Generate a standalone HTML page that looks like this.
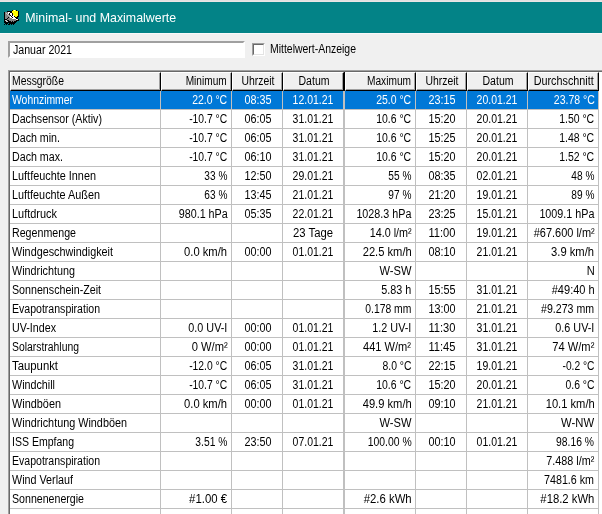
<!DOCTYPE html>
<html><head><meta charset="utf-8"><title>Minimal- und Maximalwerte</title>
<style>
html,body{margin:0;padding:0}
body{width:602px;height:514px;overflow:hidden;position:relative;background:#f0f0f0;font-family:"Liberation Sans",sans-serif;font-size:12px;color:#000}
div,span{position:absolute;box-sizing:border-box}
.t{white-space:nowrap;line-height:14px;height:14px;display:block}
.l{transform-origin:0 50%}
.r{transform-origin:100% 50%}
.c{transform-origin:50% 50%}
.sel .t{color:#fff}
</style></head><body>

<div style="left:0;top:0;width:602px;height:1px;background:#e1e1e1"></div><div style="left:0;top:1px;width:602px;height:1px;background:#e9e6e6"></div><div style="left:0;top:33px;width:602px;height:1px;background:#f9f9f9"></div>
<div style="left:0;top:2px;width:602px;height:31px;background:#038387"></div>
<svg style="position:absolute;left:4px;top:10px" width="16" height="16" viewBox="0 0 16 16" shape-rendering="crispEdges">
<rect x="8" y="0" width="1" height="1" fill="#000"/>
<rect x="9" y="0" width="1" height="1" fill="#ff0"/>
<rect x="10" y="0" width="1" height="1" fill="#fff"/>
<rect x="11" y="0" width="1" height="1" fill="#ff0"/>
<rect x="12" y="0" width="1" height="1" fill="#000"/>
<rect x="3" y="1" width="5" height="1" fill="#000"/>
<rect x="8" y="1" width="6" height="1" fill="#ff0"/>
<rect x="14" y="1" width="1" height="1" fill="#000"/>
<rect x="0" y="2" width="1" height="1" fill="#000"/>
<rect x="1" y="2" width="3" height="1" fill="#868686"/>
<rect x="4" y="2" width="2" height="1" fill="#fff"/>
<rect x="6" y="2" width="2" height="1" fill="#000"/>
<rect x="8" y="2" width="6" height="1" fill="#ff0"/>
<rect x="14" y="2" width="1" height="1" fill="#000"/>
<rect x="0" y="3" width="1" height="1" fill="#000"/>
<rect x="1" y="3" width="1" height="1" fill="#868686"/>
<rect x="2" y="3" width="1" height="1" fill="#c0c0c0"/>
<rect x="3" y="3" width="1" height="1" fill="#868686"/>
<rect x="4" y="3" width="1" height="1" fill="#fff"/>
<rect x="5" y="3" width="1" height="1" fill="#000"/>
<rect x="6" y="3" width="2" height="1" fill="#fff"/>
<rect x="8" y="3" width="1" height="1" fill="#000"/>
<rect x="9" y="3" width="5" height="1" fill="#ff0"/>
<rect x="14" y="3" width="1" height="1" fill="#000"/>
<rect x="0" y="4" width="1" height="1" fill="#000"/>
<rect x="1" y="4" width="2" height="1" fill="#868686"/>
<rect x="3" y="4" width="1" height="1" fill="#c0c0c0"/>
<rect x="4" y="4" width="1" height="1" fill="#868686"/>
<rect x="5" y="4" width="1" height="1" fill="#000"/>
<rect x="6" y="4" width="2" height="1" fill="#fff"/>
<rect x="8" y="4" width="1" height="1" fill="#000"/>
<rect x="9" y="4" width="5" height="1" fill="#ff0"/>
<rect x="14" y="4" width="1" height="1" fill="#000"/>
<rect x="0" y="5" width="1" height="1" fill="#000"/>
<rect x="1" y="5" width="3" height="1" fill="#868686"/>
<rect x="4" y="5" width="1" height="1" fill="#c0c0c0"/>
<rect x="5" y="5" width="1" height="1" fill="#868686"/>
<rect x="6" y="5" width="1" height="1" fill="#000"/>
<rect x="7" y="5" width="1" height="1" fill="#fff"/>
<rect x="8" y="5" width="1" height="1" fill="#000"/>
<rect x="9" y="5" width="1" height="1" fill="#fff"/>
<rect x="10" y="5" width="4" height="1" fill="#ff0"/>
<rect x="14" y="5" width="1" height="1" fill="#000"/>
<rect x="0" y="6" width="1" height="1" fill="#000"/>
<rect x="1" y="6" width="4" height="1" fill="#868686"/>
<rect x="5" y="6" width="1" height="1" fill="#c0c0c0"/>
<rect x="6" y="6" width="1" height="1" fill="#fff"/>
<rect x="7" y="6" width="1" height="1" fill="#000"/>
<rect x="8" y="6" width="2" height="1" fill="#fff"/>
<rect x="10" y="6" width="1" height="1" fill="#000"/>
<rect x="11" y="6" width="2" height="1" fill="#ff0"/>
<rect x="13" y="6" width="2" height="1" fill="#000"/>
<rect x="0" y="7" width="1" height="1" fill="#000"/>
<rect x="1" y="7" width="3" height="1" fill="#868686"/>
<rect x="4" y="7" width="1" height="1" fill="#000"/>
<rect x="5" y="7" width="1" height="1" fill="#868686"/>
<rect x="6" y="7" width="2" height="1" fill="#fff"/>
<rect x="8" y="7" width="1" height="1" fill="#000"/>
<rect x="9" y="7" width="2" height="1" fill="#fff"/>
<rect x="11" y="7" width="3" height="1" fill="#000"/>
<rect x="0" y="8" width="1" height="1" fill="#000"/>
<rect x="1" y="8" width="2" height="1" fill="#868686"/>
<rect x="3" y="8" width="1" height="1" fill="#000"/>
<rect x="4" y="8" width="4" height="1" fill="#868686"/>
<rect x="8" y="8" width="4" height="1" fill="#fff"/>
<rect x="12" y="8" width="2" height="1" fill="#000"/>
<rect x="0" y="9" width="3" height="1" fill="#000"/>
<rect x="3" y="9" width="9" height="1" fill="#868686"/>
<rect x="12" y="9" width="2" height="1" fill="#fff"/>
<rect x="14" y="9" width="1" height="1" fill="#000"/>
<rect x="0" y="10" width="1" height="1" fill="#000"/>
<rect x="1" y="10" width="2" height="1" fill="#c0c0c0"/>
<rect x="3" y="10" width="2" height="1" fill="#000"/>
<rect x="5" y="10" width="7" height="1" fill="#868686"/>
<rect x="12" y="10" width="3" height="1" fill="#000"/>
<rect x="0" y="11" width="2" height="1" fill="#000"/>
<rect x="2" y="11" width="2" height="1" fill="#c0c0c0"/>
<rect x="4" y="11" width="3" height="1" fill="#000"/>
<rect x="7" y="11" width="1" height="1" fill="#868686"/>
<rect x="8" y="11" width="1" height="1" fill="#000"/>
<rect x="9" y="11" width="1" height="1" fill="#868686"/>
<rect x="10" y="11" width="3" height="1" fill="#000"/>
<rect x="0" y="12" width="12" height="1" fill="#000"/>
<rect x="1" y="13" width="3" height="1" fill="#000"/>
<rect x="5" y="13" width="6" height="1" fill="#000"/>
<rect x="0" y="14" width="1" height="1" fill="#000"/>
<rect x="2" y="14" width="1" height="1" fill="#000"/>
<rect x="4" y="14" width="2" height="1" fill="#000"/>
<rect x="7" y="14" width="1" height="1" fill="#000"/>
<rect x="9" y="14" width="1" height="1" fill="#000"/>
</svg>
<span class="tt" style="left:25.3px;top:11px;color:#fff;font-size:12.4px;line-height:15px;height:15px;white-space:nowrap">Minimal- und Maximalwerte</span>
<div style="left:8px;top:41px;width:237px;height:17px;background:#fff;border-top:2px solid #a0a0a0;border-left:2px solid #a0a0a0;border-right:2px solid #fff;border-bottom:2px solid #fff"></div>
<span class="t l" style="left:12.6px;top:43px;transform:scaleX(0.8841)">Januar 2021</span>
<div style="left:252px;top:43px;width:13px;height:13px;background:#fff;border-top:1px solid #a0a0a0;border-left:1px solid #a0a0a0;border-right:1px solid #fff;border-bottom:1px solid #fff"><div style="left:0;top:0;width:11px;height:11px;border-top:1px solid #696969;border-left:1px solid #696969;border-right:1px solid #e3e3e3;border-bottom:1px solid #e3e3e3"></div></div>
<span class="t l" style="left:270px;top:42px;transform:scaleX(0.8713)">Mittelwert-Anzeige</span>
<div style="left:8px;top:70px;width:600px;height:450px;background:#fff;border-top:1px solid #a0a0a0;border-left:1px solid #a0a0a0"><div style="left:0;top:0;width:599px;height:449px;border-top:1px solid #696969;border-left:1px solid #696969"></div></div>
<div style="left:10px;top:72px;width:151px;height:19px;background:#f0f0f0;border-top:1px solid #fff;border-left:1px solid #fff;border-right:1px solid #000;border-bottom:1px solid #000"><div style="left:0;top:0;width:149px;height:17px;border-right:1px solid #a0a0a0;border-bottom:1px solid #a0a0a0"></div></div>
<span class="t l" style="left:12px;top:74px;transform:scaleX(0.8662)">Messgröße</span>
<div style="left:161px;top:72px;width:71px;height:19px;background:#f0f0f0;border-top:1px solid #fff;border-left:1px solid #fff;border-right:1px solid #000;border-bottom:1px solid #000"><div style="left:0;top:0;width:69px;height:17px;border-right:1px solid #a0a0a0;border-bottom:1px solid #a0a0a0"></div></div>
<span class="t r" style="right:375.2px;top:74px;transform:scaleX(0.8424)">Minimum</span>
<div style="left:232px;top:72px;width:51px;height:19px;background:#f0f0f0;border-top:1px solid #fff;border-left:1px solid #fff;border-right:1px solid #000;border-bottom:1px solid #000"><div style="left:0;top:0;width:49px;height:17px;border-right:1px solid #a0a0a0;border-bottom:1px solid #a0a0a0"></div></div>
<span class="t c" style="left:212.5px;width:90px;text-align:center;top:74px;transform:scaleX(0.8681)">Uhrzeit</span>
<div style="left:283px;top:72px;width:61px;height:19px;background:#f0f0f0;border-top:1px solid #fff;border-left:1px solid #fff;border-right:1px solid #000;border-bottom:1px solid #000"><div style="left:0;top:0;width:59px;height:17px;border-right:1px solid #a0a0a0;border-bottom:1px solid #a0a0a0"></div></div>
<span class="t c" style="left:263.5px;width:100px;text-align:center;top:74px;transform:scaleX(0.8771)">Datum</span>
<div style="left:345px;top:72px;width:71px;height:19px;background:#f0f0f0;border-top:1px solid #fff;border-left:1px solid #fff;border-right:1px solid #000;border-bottom:1px solid #000"><div style="left:0;top:0;width:69px;height:17px;border-right:1px solid #a0a0a0;border-bottom:1px solid #a0a0a0"></div></div>
<span class="t r" style="right:191.2px;top:74px;transform:scaleX(0.8459)">Maximum</span>
<div style="left:416px;top:72px;width:51px;height:19px;background:#f0f0f0;border-top:1px solid #fff;border-left:1px solid #fff;border-right:1px solid #000;border-bottom:1px solid #000"><div style="left:0;top:0;width:49px;height:17px;border-right:1px solid #a0a0a0;border-bottom:1px solid #a0a0a0"></div></div>
<span class="t c" style="left:396.5px;width:90px;text-align:center;top:74px;transform:scaleX(0.8681)">Uhrzeit</span>
<div style="left:467px;top:72px;width:61px;height:19px;background:#f0f0f0;border-top:1px solid #fff;border-left:1px solid #fff;border-right:1px solid #000;border-bottom:1px solid #000"><div style="left:0;top:0;width:59px;height:17px;border-right:1px solid #a0a0a0;border-bottom:1px solid #a0a0a0"></div></div>
<span class="t c" style="left:447.5px;width:100px;text-align:center;top:74px;transform:scaleX(0.8771)">Datum</span>
<div style="left:528px;top:72px;width:71px;height:19px;background:#f0f0f0;border-top:1px solid #fff;border-left:1px solid #fff;border-right:1px solid #000;border-bottom:1px solid #000"><div style="left:0;top:0;width:69px;height:17px;border-right:1px solid #a0a0a0;border-bottom:1px solid #a0a0a0"></div></div>
<span class="t r" style="right:8.200000000000045px;top:74px;transform:scaleX(0.8995)">Durchschnitt</span>
<div style="left:344px;top:72px;width:1px;height:19px;background:#000"></div>
<div style="left:10px;top:91px;width:589px;height:18px;background:#0078d7"></div>
<div style="left:10px;top:109px;width:589px;height:1px;background:#c0c0c0"></div>
<div style="left:10px;top:128px;width:589px;height:1px;background:#c0c0c0"></div>
<div style="left:10px;top:147px;width:589px;height:1px;background:#c0c0c0"></div>
<div style="left:10px;top:166px;width:589px;height:1px;background:#c0c0c0"></div>
<div style="left:10px;top:185px;width:589px;height:1px;background:#c0c0c0"></div>
<div style="left:10px;top:204px;width:589px;height:1px;background:#c0c0c0"></div>
<div style="left:10px;top:223px;width:589px;height:1px;background:#c0c0c0"></div>
<div style="left:10px;top:242px;width:589px;height:1px;background:#c0c0c0"></div>
<div style="left:10px;top:261px;width:589px;height:1px;background:#c0c0c0"></div>
<div style="left:10px;top:280px;width:589px;height:1px;background:#c0c0c0"></div>
<div style="left:10px;top:299px;width:589px;height:1px;background:#c0c0c0"></div>
<div style="left:10px;top:318px;width:589px;height:1px;background:#c0c0c0"></div>
<div style="left:10px;top:337px;width:589px;height:1px;background:#c0c0c0"></div>
<div style="left:10px;top:356px;width:589px;height:1px;background:#c0c0c0"></div>
<div style="left:10px;top:375px;width:589px;height:1px;background:#c0c0c0"></div>
<div style="left:10px;top:394px;width:589px;height:1px;background:#c0c0c0"></div>
<div style="left:10px;top:413px;width:589px;height:1px;background:#c0c0c0"></div>
<div style="left:10px;top:432px;width:589px;height:1px;background:#c0c0c0"></div>
<div style="left:10px;top:451px;width:589px;height:1px;background:#c0c0c0"></div>
<div style="left:10px;top:470px;width:589px;height:1px;background:#c0c0c0"></div>
<div style="left:10px;top:489px;width:589px;height:1px;background:#c0c0c0"></div>
<div style="left:10px;top:508px;width:589px;height:1px;background:#c0c0c0"></div>
<div style="left:160px;top:91px;width:1px;height:423px;background:#c0c0c0"></div>
<div style="left:231px;top:91px;width:1px;height:423px;background:#c0c0c0"></div>
<div style="left:282px;top:91px;width:1px;height:423px;background:#c0c0c0"></div>
<div style="left:343px;top:91px;width:1px;height:423px;background:#c0c0c0"></div>
<div style="left:344px;top:91px;width:1px;height:423px;background:#c0c0c0"></div>
<div style="left:415px;top:91px;width:1px;height:423px;background:#c0c0c0"></div>
<div style="left:466px;top:91px;width:1px;height:423px;background:#c0c0c0"></div>
<div style="left:527px;top:91px;width:1px;height:423px;background:#c0c0c0"></div>
<div style="left:598px;top:91px;width:1px;height:423px;background:#c0c0c0"></div>
<div class="row sel" style="left:0;top:91px;width:602px;height:18px">
<span class="t l" style="left:12px;top:2px;transform:scaleX(0.8656)">Wohnzimmer</span>
<span class="t r" style="right:374.5px;top:2px;transform:scaleX(0.8716)">22.0 °C</span>
<span class="t c" style="left:212.5px;width:90px;text-align:center;top:2px;transform:scaleX(0.8991)">08:35</span>
<span class="t c" style="left:262.7px;width:100px;text-align:center;top:2px;transform:scaleX(0.8733)">12.01.21</span>
<span class="t r" style="right:190.5px;top:2px;transform:scaleX(0.8716)">25.0 °C</span>
<span class="t c" style="left:396.5px;width:90px;text-align:center;top:2px;transform:scaleX(0.8991)">23:15</span>
<span class="t c" style="left:446.7px;width:100px;text-align:center;top:2px;transform:scaleX(0.8733)">20.01.21</span>
<span class="t r" style="right:7.5px;top:2px;transform:scaleX(0.8755)">23.78 °C</span>
</div>
<div class="row" style="left:0;top:110px;width:602px;height:18px">
<span class="t l" style="left:12px;top:2px;transform:scaleX(0.8878)">Dachsensor (Aktiv)</span>
<span class="t r" style="right:374.5px;top:2px;transform:scaleX(0.8606)">-10.7 °C</span>
<span class="t c" style="left:212.5px;width:90px;text-align:center;top:2px;transform:scaleX(0.8991)">06:05</span>
<span class="t c" style="left:262.7px;width:100px;text-align:center;top:2px;transform:scaleX(0.8733)">31.01.21</span>
<span class="t r" style="right:190.5px;top:2px;transform:scaleX(0.8716)">10.6 °C</span>
<span class="t c" style="left:396.5px;width:90px;text-align:center;top:2px;transform:scaleX(0.8991)">15:20</span>
<span class="t c" style="left:446.7px;width:100px;text-align:center;top:2px;transform:scaleX(0.8733)">20.01.21</span>
<span class="t r" style="right:7.5px;top:2px;transform:scaleX(0.8716)">1.50 °C</span>
</div>
<div class="row" style="left:0;top:129px;width:602px;height:18px">
<span class="t l" style="left:12px;top:2px;transform:scaleX(0.8884)">Dach min.</span>
<span class="t r" style="right:374.5px;top:2px;transform:scaleX(0.8606)">-10.7 °C</span>
<span class="t c" style="left:212.5px;width:90px;text-align:center;top:2px;transform:scaleX(0.8991)">06:05</span>
<span class="t c" style="left:262.7px;width:100px;text-align:center;top:2px;transform:scaleX(0.8733)">31.01.21</span>
<span class="t r" style="right:190.5px;top:2px;transform:scaleX(0.8716)">10.6 °C</span>
<span class="t c" style="left:396.5px;width:90px;text-align:center;top:2px;transform:scaleX(0.8991)">15:25</span>
<span class="t c" style="left:446.7px;width:100px;text-align:center;top:2px;transform:scaleX(0.8733)">20.01.21</span>
<span class="t r" style="right:7.5px;top:2px;transform:scaleX(0.8716)">1.48 °C</span>
</div>
<div class="row" style="left:0;top:148px;width:602px;height:18px">
<span class="t l" style="left:12px;top:2px;transform:scaleX(0.8891)">Dach max.</span>
<span class="t r" style="right:374.5px;top:2px;transform:scaleX(0.8606)">-10.7 °C</span>
<span class="t c" style="left:212.5px;width:90px;text-align:center;top:2px;transform:scaleX(0.8991)">06:10</span>
<span class="t c" style="left:262.7px;width:100px;text-align:center;top:2px;transform:scaleX(0.8733)">31.01.21</span>
<span class="t r" style="right:190.5px;top:2px;transform:scaleX(0.8716)">10.6 °C</span>
<span class="t c" style="left:396.5px;width:90px;text-align:center;top:2px;transform:scaleX(0.8991)">15:20</span>
<span class="t c" style="left:446.7px;width:100px;text-align:center;top:2px;transform:scaleX(0.8733)">20.01.21</span>
<span class="t r" style="right:7.5px;top:2px;transform:scaleX(0.8716)">1.52 °C</span>
</div>
<div class="row" style="left:0;top:167px;width:602px;height:18px">
<span class="t l" style="left:12px;top:2px;transform:scaleX(0.9057)">Luftfeuchte Innen</span>
<span class="t r" style="right:374.5px;top:2px;transform:scaleX(0.8407)">33 %</span>
<span class="t c" style="left:212.5px;width:90px;text-align:center;top:2px;transform:scaleX(0.8991)">12:50</span>
<span class="t c" style="left:262.7px;width:100px;text-align:center;top:2px;transform:scaleX(0.8733)">29.01.21</span>
<span class="t r" style="right:190.5px;top:2px;transform:scaleX(0.8407)">55 %</span>
<span class="t c" style="left:396.5px;width:90px;text-align:center;top:2px;transform:scaleX(0.8991)">08:35</span>
<span class="t c" style="left:446.7px;width:100px;text-align:center;top:2px;transform:scaleX(0.8733)">02.01.21</span>
<span class="t r" style="right:7.5px;top:2px;transform:scaleX(0.8407)">48 %</span>
</div>
<div class="row" style="left:0;top:186px;width:602px;height:18px">
<span class="t l" style="left:12px;top:2px;transform:scaleX(0.9034)">Luftfeuchte Außen</span>
<span class="t r" style="right:374.5px;top:2px;transform:scaleX(0.8407)">63 %</span>
<span class="t c" style="left:212.5px;width:90px;text-align:center;top:2px;transform:scaleX(0.8991)">13:45</span>
<span class="t c" style="left:262.7px;width:100px;text-align:center;top:2px;transform:scaleX(0.8733)">21.01.21</span>
<span class="t r" style="right:190.5px;top:2px;transform:scaleX(0.8407)">97 %</span>
<span class="t c" style="left:396.5px;width:90px;text-align:center;top:2px;transform:scaleX(0.8991)">21:20</span>
<span class="t c" style="left:446.7px;width:100px;text-align:center;top:2px;transform:scaleX(0.8733)">19.01.21</span>
<span class="t r" style="right:7.5px;top:2px;transform:scaleX(0.8407)">89 %</span>
</div>
<div class="row" style="left:0;top:205px;width:602px;height:18px">
<span class="t l" style="left:12px;top:2px;transform:scaleX(0.9117)">Luftdruck</span>
<span class="t r" style="right:374.5px;top:2px;transform:scaleX(0.8955)">980.1 hPa</span>
<span class="t c" style="left:212.5px;width:90px;text-align:center;top:2px;transform:scaleX(0.8991)">05:35</span>
<span class="t c" style="left:262.7px;width:100px;text-align:center;top:2px;transform:scaleX(0.8733)">22.01.21</span>
<span class="t r" style="right:190.5px;top:2px;transform:scaleX(0.8959)">1028.3 hPa</span>
<span class="t c" style="left:396.5px;width:90px;text-align:center;top:2px;transform:scaleX(0.8991)">23:25</span>
<span class="t c" style="left:446.7px;width:100px;text-align:center;top:2px;transform:scaleX(0.8733)">15.01.21</span>
<span class="t r" style="right:7.5px;top:2px;transform:scaleX(0.8959)">1009.1 hPa</span>
</div>
<div class="row" style="left:0;top:224px;width:602px;height:18px">
<span class="t l" style="left:12px;top:2px;transform:scaleX(0.8881)">Regenmenge</span>
<span class="t c" style="left:262.7px;width:100px;text-align:center;top:2px;transform:scaleX(0.9412)">23 Tage</span>
<span class="t r" style="right:190.5px;top:2px;transform:scaleX(0.8996)">14.0 l/m²</span>
<span class="t c" style="left:396.5px;width:90px;text-align:center;top:2px;transform:scaleX(0.9265)">11:00</span>
<span class="t c" style="left:446.7px;width:100px;text-align:center;top:2px;transform:scaleX(0.8733)">19.01.21</span>
<span class="t r" style="right:7.5px;top:2px;transform:scaleX(0.9145)">#67.600 l/m²</span>
</div>
<div class="row" style="left:0;top:243px;width:602px;height:18px">
<span class="t l" style="left:12px;top:2px;transform:scaleX(0.9013)">Windgeschwindigkeit</span>
<span class="t r" style="right:374.5px;top:2px;transform:scaleX(0.9341)">0.0 km/h</span>
<span class="t c" style="left:212.5px;width:90px;text-align:center;top:2px;transform:scaleX(0.8991)">00:00</span>
<span class="t c" style="left:262.7px;width:100px;text-align:center;top:2px;transform:scaleX(0.8733)">01.01.21</span>
<span class="t r" style="right:190.5px;top:2px;transform:scaleX(0.9297)">22.5 km/h</span>
<span class="t c" style="left:396.5px;width:90px;text-align:center;top:2px;transform:scaleX(0.8991)">08:10</span>
<span class="t c" style="left:446.7px;width:100px;text-align:center;top:2px;transform:scaleX(0.8733)">21.01.21</span>
<span class="t r" style="right:7.5px;top:2px;transform:scaleX(0.9341)">3.9 km/h</span>
</div>
<div class="row" style="left:0;top:262px;width:602px;height:18px">
<span class="t l" style="left:12px;top:2px;transform:scaleX(0.8996)">Windrichtung</span>
<span class="t r" style="right:190.5px;top:2px;transform:scaleX(0.9292)">W-SW</span>
<span class="t r" style="right:7.5px;top:2px;transform:scaleX(0.9225)">N</span>
</div>
<div class="row" style="left:0;top:281px;width:602px;height:18px">
<span class="t l" style="left:12px;top:2px;transform:scaleX(0.8894)">Sonnenschein-Zeit</span>
<span class="t r" style="right:190.5px;top:2px;transform:scaleX(0.8989)">5.83 h</span>
<span class="t c" style="left:396.5px;width:90px;text-align:center;top:2px;transform:scaleX(0.8991)">15:55</span>
<span class="t c" style="left:446.7px;width:100px;text-align:center;top:2px;transform:scaleX(0.8733)">31.01.21</span>
<span class="t r" style="right:7.5px;top:2px;transform:scaleX(0.9204)">#49:40 h</span>
</div>
<div class="row" style="left:0;top:300px;width:602px;height:18px">
<span class="t l" style="left:12px;top:2px;transform:scaleX(0.8795)">Evapotranspiration</span>
<span class="t r" style="right:190.5px;top:2px;transform:scaleX(0.8621)">0.178 mm</span>
<span class="t c" style="left:396.5px;width:90px;text-align:center;top:2px;transform:scaleX(0.8991)">13:00</span>
<span class="t c" style="left:446.7px;width:100px;text-align:center;top:2px;transform:scaleX(0.8733)">21.01.21</span>
<span class="t r" style="right:7.5px;top:2px;transform:scaleX(0.8829)">#9.273 mm</span>
</div>
<div class="row" style="left:0;top:319px;width:602px;height:18px">
<span class="t l" style="left:12px;top:2px;transform:scaleX(0.8914)">UV-Index</span>
<span class="t r" style="right:374.5px;top:2px;transform:scaleX(0.8995)">0.0 UV-I</span>
<span class="t c" style="left:212.5px;width:90px;text-align:center;top:2px;transform:scaleX(0.8991)">00:00</span>
<span class="t c" style="left:262.7px;width:100px;text-align:center;top:2px;transform:scaleX(0.8733)">01.01.21</span>
<span class="t r" style="right:190.5px;top:2px;transform:scaleX(0.8995)">1.2 UV-I</span>
<span class="t c" style="left:396.5px;width:90px;text-align:center;top:2px;transform:scaleX(0.9265)">11:30</span>
<span class="t c" style="left:446.7px;width:100px;text-align:center;top:2px;transform:scaleX(0.8733)">31.01.21</span>
<span class="t r" style="right:7.5px;top:2px;transform:scaleX(0.8995)">0.6 UV-I</span>
</div>
<div class="row" style="left:0;top:338px;width:602px;height:18px">
<span class="t l" style="left:12px;top:2px;transform:scaleX(0.8657)">Solarstrahlung</span>
<span class="t r" style="right:374.5px;top:2px;transform:scaleX(0.9309)">0 W/m²</span>
<span class="t c" style="left:212.5px;width:90px;text-align:center;top:2px;transform:scaleX(0.8991)">00:00</span>
<span class="t c" style="left:262.7px;width:100px;text-align:center;top:2px;transform:scaleX(0.8733)">01.01.21</span>
<span class="t r" style="right:190.5px;top:2px;transform:scaleX(0.9228)">441 W/m²</span>
<span class="t c" style="left:396.5px;width:90px;text-align:center;top:2px;transform:scaleX(0.9265)">11:45</span>
<span class="t c" style="left:446.7px;width:100px;text-align:center;top:2px;transform:scaleX(0.8733)">31.01.21</span>
<span class="t r" style="right:7.5px;top:2px;transform:scaleX(0.9263)">74 W/m²</span>
</div>
<div class="row" style="left:0;top:357px;width:602px;height:18px">
<span class="t l" style="left:12px;top:2px;transform:scaleX(0.9445)">Taupunkt</span>
<span class="t r" style="right:374.5px;top:2px;transform:scaleX(0.8606)">-12.0 °C</span>
<span class="t c" style="left:212.5px;width:90px;text-align:center;top:2px;transform:scaleX(0.8991)">06:05</span>
<span class="t c" style="left:262.7px;width:100px;text-align:center;top:2px;transform:scaleX(0.8733)">31.01.21</span>
<span class="t r" style="right:190.5px;top:2px;transform:scaleX(0.8661)">8.0 °C</span>
<span class="t c" style="left:396.5px;width:90px;text-align:center;top:2px;transform:scaleX(0.8991)">22:15</span>
<span class="t c" style="left:446.7px;width:100px;text-align:center;top:2px;transform:scaleX(0.8733)">19.01.21</span>
<span class="t r" style="right:7.5px;top:2px;transform:scaleX(0.8537)">-0.2 °C</span>
</div>
<div class="row" style="left:0;top:376px;width:602px;height:18px">
<span class="t l" style="left:12px;top:2px;transform:scaleX(0.8955)">Windchill</span>
<span class="t r" style="right:374.5px;top:2px;transform:scaleX(0.8606)">-10.7 °C</span>
<span class="t c" style="left:212.5px;width:90px;text-align:center;top:2px;transform:scaleX(0.8991)">06:05</span>
<span class="t c" style="left:262.7px;width:100px;text-align:center;top:2px;transform:scaleX(0.8733)">31.01.21</span>
<span class="t r" style="right:190.5px;top:2px;transform:scaleX(0.8716)">10.6 °C</span>
<span class="t c" style="left:396.5px;width:90px;text-align:center;top:2px;transform:scaleX(0.8991)">15:20</span>
<span class="t c" style="left:446.7px;width:100px;text-align:center;top:2px;transform:scaleX(0.8733)">20.01.21</span>
<span class="t r" style="right:7.5px;top:2px;transform:scaleX(0.8661)">0.6 °C</span>
</div>
<div class="row" style="left:0;top:395px;width:602px;height:18px">
<span class="t l" style="left:12px;top:2px;transform:scaleX(0.9066)">Windböen</span>
<span class="t r" style="right:374.5px;top:2px;transform:scaleX(0.9341)">0.0 km/h</span>
<span class="t c" style="left:212.5px;width:90px;text-align:center;top:2px;transform:scaleX(0.8991)">00:00</span>
<span class="t c" style="left:262.7px;width:100px;text-align:center;top:2px;transform:scaleX(0.8733)">01.01.21</span>
<span class="t r" style="right:190.5px;top:2px;transform:scaleX(0.9297)">49.9 km/h</span>
<span class="t c" style="left:396.5px;width:90px;text-align:center;top:2px;transform:scaleX(0.8991)">09:10</span>
<span class="t c" style="left:446.7px;width:100px;text-align:center;top:2px;transform:scaleX(0.8733)">21.01.21</span>
<span class="t r" style="right:7.5px;top:2px;transform:scaleX(0.9297)">10.1 km/h</span>
</div>
<div class="row" style="left:0;top:414px;width:602px;height:18px">
<span class="t l" style="left:12px;top:2px;transform:scaleX(0.9026)">Windrichtung Windböen</span>
<span class="t r" style="right:190.5px;top:2px;transform:scaleX(0.9292)">W-SW</span>
<span class="t r" style="right:7.5px;top:2px;transform:scaleX(0.9399)">W-NW</span>
</div>
<div class="row" style="left:0;top:433px;width:602px;height:18px">
<span class="t l" style="left:12px;top:2px;transform:scaleX(0.8767)">ISS Empfang</span>
<span class="t r" style="right:374.5px;top:2px;transform:scaleX(0.8565)">3.51 %</span>
<span class="t c" style="left:212.5px;width:90px;text-align:center;top:2px;transform:scaleX(0.8991)">23:50</span>
<span class="t c" style="left:262.7px;width:100px;text-align:center;top:2px;transform:scaleX(0.8733)">07.01.21</span>
<span class="t r" style="right:190.5px;top:2px;transform:scaleX(0.8675)">100.00 %</span>
<span class="t c" style="left:396.5px;width:90px;text-align:center;top:2px;transform:scaleX(0.8991)">00:10</span>
<span class="t c" style="left:446.7px;width:100px;text-align:center;top:2px;transform:scaleX(0.8733)">01.01.21</span>
<span class="t r" style="right:7.5px;top:2px;transform:scaleX(0.8627)">98.16 %</span>
</div>
<div class="row" style="left:0;top:452px;width:602px;height:18px">
<span class="t l" style="left:12px;top:2px;transform:scaleX(0.8795)">Evapotranspiration</span>
<span class="t r" style="right:7.5px;top:2px;transform:scaleX(0.8996)">7.488 l/m²</span>
</div>
<div class="row" style="left:0;top:471px;width:602px;height:18px">
<span class="t l" style="left:12px;top:2px;transform:scaleX(0.8964)">Wind Verlauf</span>
<span class="t r" style="right:7.5px;top:2px;transform:scaleX(0.8921)">7481.6 km</span>
</div>
<div class="row" style="left:0;top:490px;width:602px;height:18px">
<span class="t l" style="left:12px;top:2px;transform:scaleX(0.8845)">Sonnenenergie</span>
<span class="t r" style="right:374.5px;top:2px;transform:scaleX(0.9489)">#1.00 €</span>
<span class="t r" style="right:190.5px;top:2px;transform:scaleX(0.9467)">#2.6 kWh</span>
<span class="t r" style="right:7.5px;top:2px;transform:scaleX(0.9412)">#18.2 kWh</span>
</div>
</body></html>
